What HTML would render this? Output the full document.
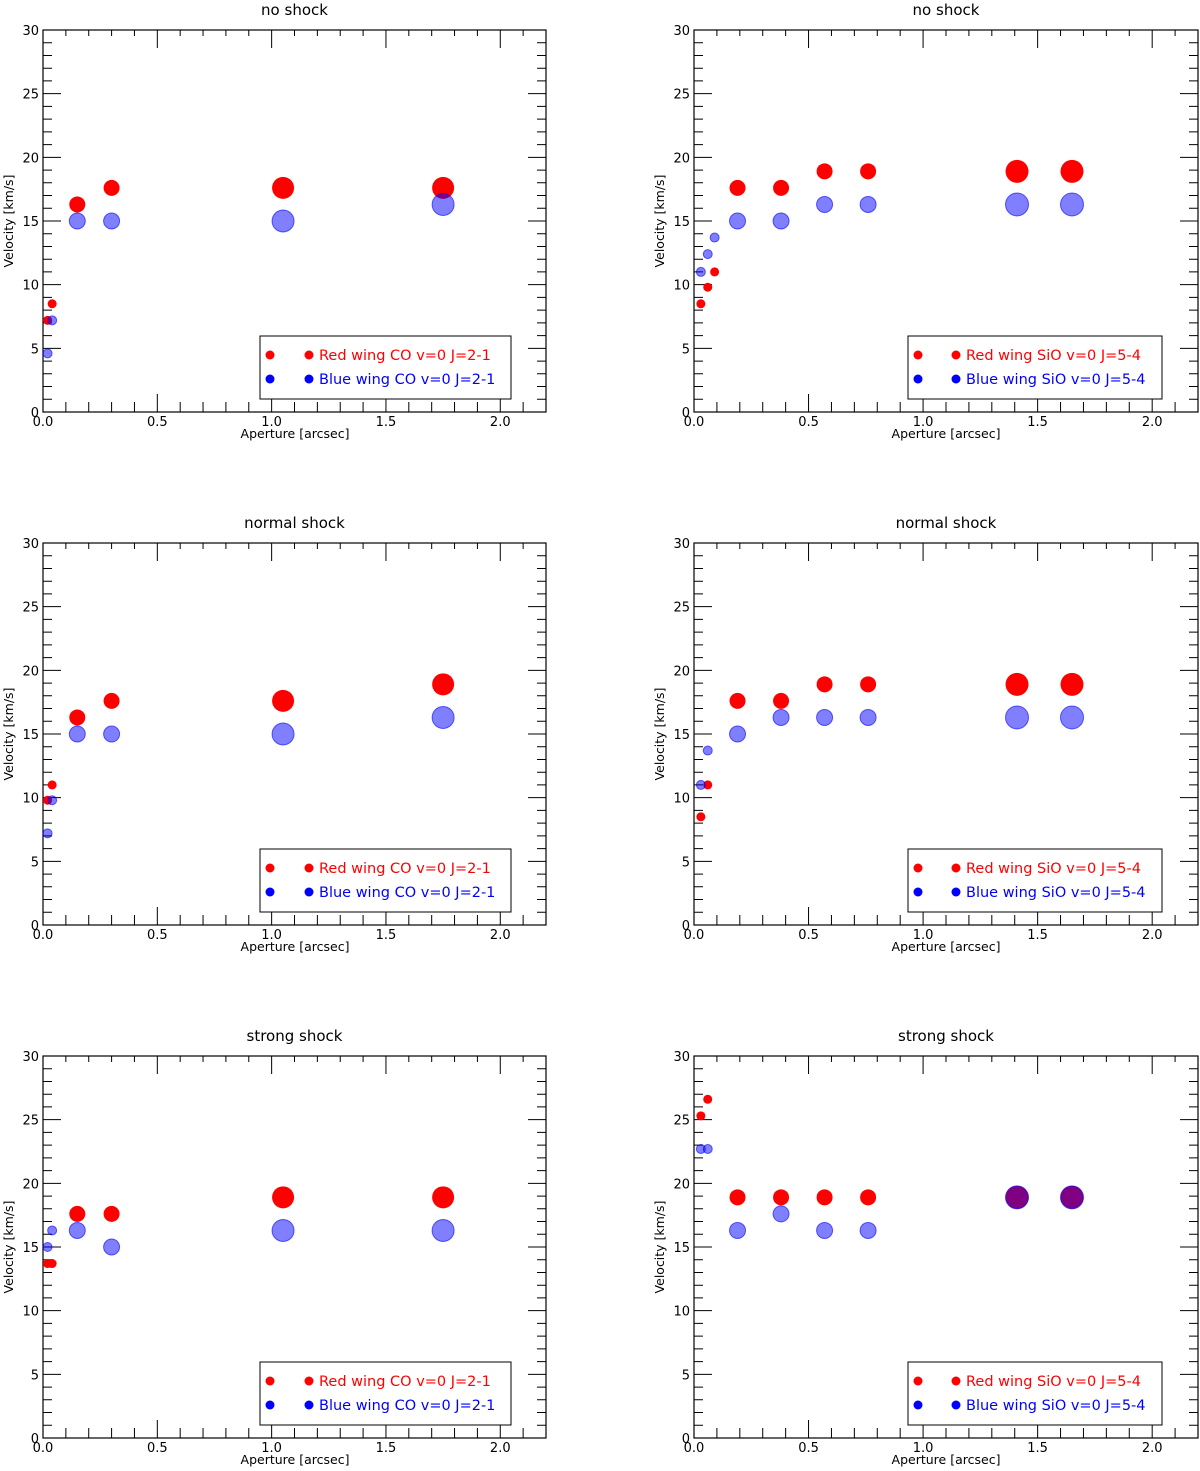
<!DOCTYPE html>
<html><head><meta charset="utf-8"><style>
body{margin:0;background:#fff}
svg{display:block;font-family:"DejaVu Sans","Liberation Sans",sans-serif}
</style></head><body>
<svg id="fig" width="1200" height="1471" viewBox="0 0 1200 1471" xmlns="http://www.w3.org/2000/svg"></svg>
<script>
const titles=["no shock","no shock","normal shock","normal shock","strong shock","strong shock"];
const legendRed=["Red wing CO v=0 J=2-1","Red wing SiO v=0 J=5-4"];
const legendBlue=["Blue wing CO v=0 J=2-1","Blue wing SiO v=0 J=5-4"];
const xTicks=["0.0","0.5","1.0","1.5","2.0"];
const yTicks=["0","5","10","15","20","25","30"];
const coX=[0.02,0.04,0.15,0.3,1.05,1.75];
const coR=[4.5,4.5,8,8,11,11];
const sioX=[0.03,0.06,0.09,0.19,0.38,0.57,0.76,1.41,1.65];
const sioR=[4.5,4.5,4.5,8,8,8,8,11.5,11.5];
const sioX4=[0.03,0.06,0.19,0.38,0.57,0.76,1.41,1.65];
const sioR4=[4.5,4.5,8,8,8,8,11.5,11.5];
const red1=[7.2,8.5,16.3,17.6,17.6,17.6];
const blue1=[4.6,7.2,15,15,15,16.3];
const red2=[8.5,9.8,11,17.6,17.6,18.9,18.9,18.9,18.9];
const blue2=[11,12.4,13.7,15,15,16.3,16.3,16.3,16.3];
const red3=[9.8,11,16.3,17.6,17.6,18.9];
const blue3=[7.2,9.8,15,15,15,16.3];
const red4=[8.5,11,17.6,17.6,18.9,18.9,18.9,18.9];
const blue4=[11,13.7,15,16.3,16.3,16.3,16.3,16.3];
const red5=[13.7,13.7,17.6,17.6,18.9,18.9];
const blue5=[15,16.3,16.3,15,16.3,16.3];
const red6=[25.3,26.6,18.9,18.9,18.9,18.9,18.9,18.9];
const blue6=[22.7,22.7,16.3,17.6,16.3,16.3,18.9,18.9];

const panels=[
 {x:coX,r:coR,red:red1,blue:blue1,kind:0},
 {x:sioX,r:sioR,red:red2,blue:blue2,kind:1},
 {x:coX,r:coR,red:red3,blue:blue3,kind:0},
 {x:sioX4,r:sioR4,red:red4,blue:blue4,kind:1},
 {x:coX,r:coR,red:red5,blue:blue5,kind:0},
 {x:sioX4,r:sioR4,red:red6,blue:blue6,kind:1}
];
const NS="http://www.w3.org/2000/svg";
const svg=document.getElementById('fig');
function mk(tag,attrs,parent,text){const e=document.createElementNS(NS,tag);for(const k in attrs)e.setAttribute(k,attrs[k]);if(text!==undefined)e.textContent=text;parent.appendChild(e);return e;}

panels.forEach((p,i)=>{
 const col=i%2,row=Math.floor(i/2);
 const L=col?694:43, R=col?1198:546, T=30+row*513, B=412+row*513;
 const sx=v=>L+(v/2.2)*(R-L);
 const sy=v=>B-(v/30)*(B-T);
 const g=mk('g',{},svg);
 
 
 const t=mk('text',{x:(L+R)/2,y:T-15,'text-anchor':'middle','font-size':15},g,titles[i]);
 
 
 const fr=mk('rect',{x:L,y:T,width:R-L,height:B-T,fill:'none',stroke:'#000','stroke-width':1.2},g);
 
 
 let d='';
 for(let k=1;k<22;k++){const x=sx(k/10);const maj=k%5==0;const lb=maj?18:10,lt=maj?18:6;d+=`M${x},${B}v${-lb}M${x},${T}v${lt}`;}
 for(let k=1;k<30;k++){const y=sy(k);const maj=k%5==0;const l=maj?18:9;d+=`M${L},${y}h${l}M${R},${y}h${-l}`;}
 const tk=mk('path',{d:d,stroke:'#000','stroke-width':1,fill:'none'},g);
 
 
 xTicks.forEach((s,k)=>{const e=mk('text',{x:sx(k*0.5),y:B+14,'text-anchor':'middle','font-size':13},g,s);
  });
 yTicks.forEach((s,k)=>{const e=mk('text',{x:L-4,y:sy(k*5)+5,'text-anchor':'end','font-size':13},g,s);
  });
 const xt=mk('text',{x:L+252,y:B+26,'text-anchor':'middle','font-size':12.5},g,'Aperture [arcsec]');
 
 const yt=mk('text',{x:0,y:0,'text-anchor':'middle','font-size':12.5,transform:`translate(${L-30},${(T+B)/2}) rotate(-90)`},g,'Velocity [km/s]');
 
 p.x.forEach((xv,k)=>{const c=mk('circle',{cx:sx(xv),cy:sy(p.red[k]),r:p.r[k],fill:'#ff0000'},g);
  });
 p.x.forEach((xv,k)=>{const c=mk('circle',{cx:sx(xv),cy:sy(p.blue[k]),r:p.r[k],fill:'rgba(0,0,255,0.5)',stroke:'rgba(0,0,255,0.6)','stroke-width':1},g);
  });
 const lx=col?908:260, ly=T+306;
 const lg=mk('g',{},g);
 
 mk('rect',{x:lx,y:ly,width:col?254:251,height:63,fill:'#fff',stroke:'#000','stroke-width':1},lg);
 const m1=10,m2=col?48:49,tx=col?58:59;
 [[legendRed[p.kind],'#ff0000',19],[legendBlue[p.kind],'#0000ff',43]].forEach(([s,c,dy])=>{
  const e=mk('g',{},lg);
  
  mk('circle',{cx:lx+m1,cy:ly+dy,r:4.5,fill:c},e);
  mk('circle',{cx:lx+m2,cy:ly+dy,r:4.5,fill:c},e);
  mk('text',{x:lx+tx,y:ly+dy+5,'font-size':14.5,fill:c},e,s);
 });
});
</script>
</body></html>
